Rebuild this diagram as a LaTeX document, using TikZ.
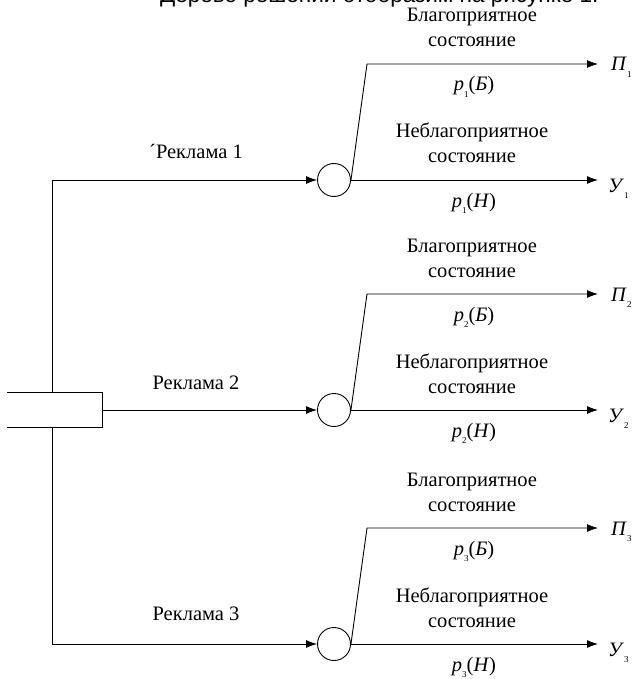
\documentclass[tikz,border=0pt]{standalone}
\usepackage{fontspec}
\setmainfont{Liberation Serif}
\newfontfamily\capfont{Liberation Sans}
\usetikzlibrary{arrows.meta}
% small lowered index for p_i, П_i, У_i
\newcommand{\idx}[1]{\raisebox{-0.3em}{\fontsize{9}{9}\selectfont #1}}

\begin{document}
\begin{tikzpicture}[x=1pt,y=-1pt,
  wire/.style={line width=0.9pt},
  arr/.style={wire,-{Latex[length=11pt,width=8pt]}},
  chance/.style={circle,draw,line width=0.9pt,minimum size=33pt,inner sep=0pt,fill=white},
  lbl/.style={font=\fontsize{20.5}{25}\selectfont,inner sep=0pt,anchor=base,align=center},
  term/.style={font=\fontsize{20.5}{20}\selectfont,inner sep=0pt,anchor=base west}]

\useasboundingbox (0,0) rectangle (641,679);

% caption line above the tree (partly outside the page)
\node[anchor=base west,inner sep=0pt,font=\capfont\fontsize{22.5}{22.5}\selectfont] (title)
  at (160,3) {Дерево решений отобразим на рисунке 1.};

% trunk and root
\coordinate (j1) at (52,180);
\coordinate (j3) at (52,644);
\draw[wire] (j1) -- (j3);
\node[minimum width=95pt,minimum height=34pt,inner sep=0pt,fill=white] (root) at (54.5,410) {};
\draw[wire] (root.north west) -- (root.north east) -- (root.south east) -- (root.south west);

% chance nodes
\node[chance] (c1) at (334,180) {};
\node[chance] (c2) at (334,410) {};
\node[chance] (c3) at (334,644) {};

\draw[arr] (j1) -- (c1.west);
\draw[arr] (root.east) -- (c2.west);
\draw[arr] (j3) -- (c3.west);

\node[lbl] (r1) at (196,158) {´Реклама 1};
\node[lbl] (r2) at (196,389) {Реклама 2};
\node[lbl] (r3) at (196,620) {Реклама 3};

% outcome branches
\foreach \i/\y in {1/180,2/410,3/644}{
  \coordinate (b\i) at (367,\y-116);
  \coordinate (pe\i) at (598,\y-116);
  \coordinate (ue\i) at (598,\y);
  \draw[arr] (c\i.east) -- (b\i) -- (pe\i);
  \draw[arr] (c\i.east) -- (ue\i);
  \node[lbl] (g\i) at (472,\y-116-17) {Благоприятное\\состояние};
  \node[lbl] (pg\i) at (474,\y-116+27) {\textit{p}\idx{\i}(\textit{Б})};
  \node[lbl] (n\i) at (472,\y-17) {Неблагоприятное\\состояние};
  \node[lbl] (pn\i) at (474,\y+27) {\textit{p}\idx{\i}(\textit{H})};
  \node[term] (P\i) at (611,\y-116+7) {\textit{П}\idx{\i}};
  \node[term] (U\i) at (608,\y+12) {\textit{У}\idx{\i}};
}
\end{tikzpicture}
\end{document}
